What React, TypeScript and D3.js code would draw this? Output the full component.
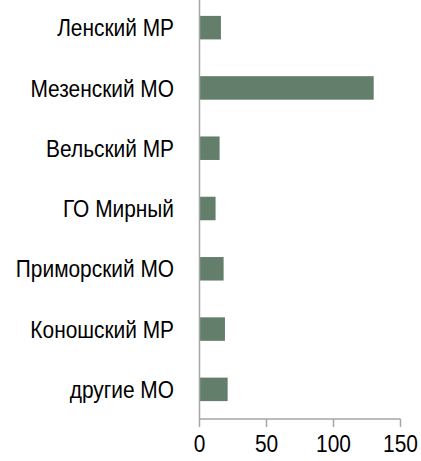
import React from "react";
import * as d3 from "d3";

const categories = ["Ленский МР", "Мезенский МО", "Вельский МР", "ГО Мирный", "Приморский МО", "Коношский МР", "другие МО"];
const values = [16, 130, 15, 12, 18, 19, 21];
const xTicks = [0, 50, 100, 150];

const W = 421;
const H = 461;
const FONT = "'Liberation Sans', Arial, sans-serif";
const SX = 0.87;

export default function App() {
  const x = d3.scaleLinear().domain([0, 150]).range([199.5, 400.5]);
  const y = d3.scaleBand<string>().domain(categories).range([-2.5, 419.5]).paddingInner(0.61).paddingOuter(0.305);
  const axisY = 419;
  const axisColor = "#A6A6A6";
  return (
    <svg width={W} height={H} style={{ position: "absolute", left: 0, top: 0, background: "#fff" }}>
      {categories.map((c, i) => (
        <rect key={c} x={x(0)} y={y(c)!} width={x(values[i]) - x(0)} height={y.bandwidth()} fill="#647E6C" />
      ))}
      <line x1={x(0)} x2={x(0)} y1={0} y2={axisY} stroke={axisColor} strokeWidth={1.5} />
      <line x1={x(0)} x2={x(150)} y1={axisY} y2={axisY} stroke={axisColor} strokeWidth={1.5} />
      {xTicks.map((t) => (
        <g key={t}>
          <line x1={x(t)} x2={x(t)} y1={axisY} y2={axisY + 8} stroke={axisColor} strokeWidth={1.5} />
          <g transform={`translate(${x(t)},452) scale(${SX},1)`}>
            <text x={0} y={0} textAnchor="middle" fontFamily={FONT} fontSize={24} fill="#000">{t}</text>
          </g>
        </g>
      ))}
      {categories.map((c) => (
        <g key={c} transform={`translate(174,${y(c)! + y.bandwidth() / 2}) scale(${SX},1)`}>
          <text x={0} y={0} dy="0.36em" textAnchor="end" fontFamily={FONT} fontSize={24} fill="#000">{c}</text>
        </g>
      ))}
    </svg>
  );
}
